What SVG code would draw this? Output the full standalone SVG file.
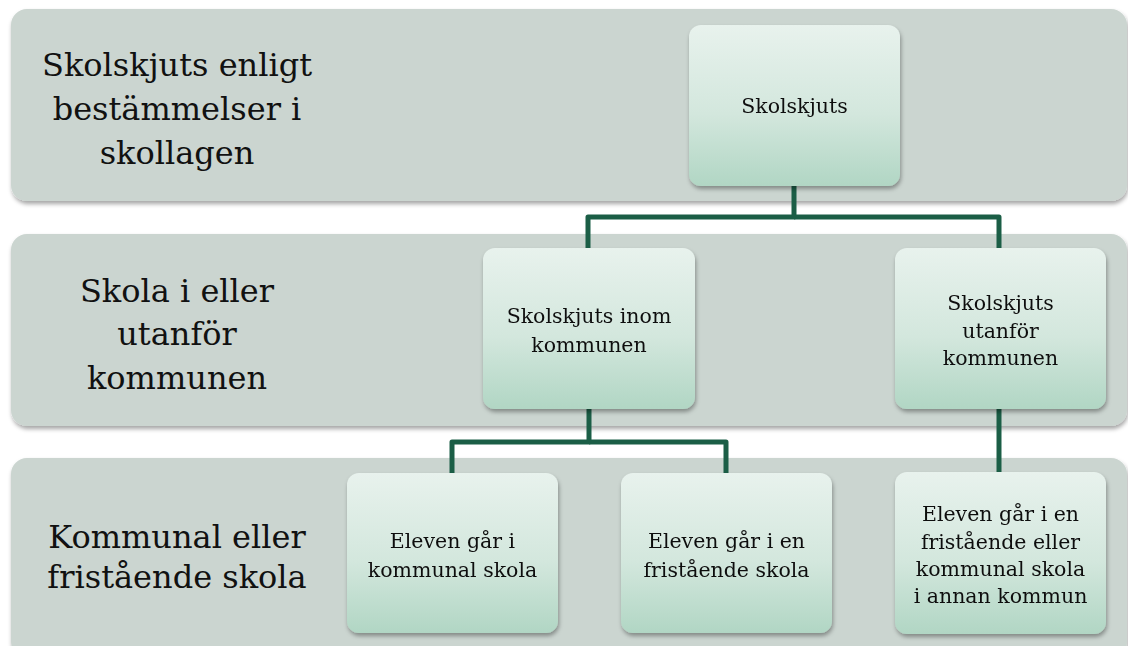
<svg xmlns="http://www.w3.org/2000/svg" width="1128" height="646" viewBox="0 0 1128 646">
<style>
.band{fill:#cbd5d0}
.node{fill:url(#ng)}
.lbl{font-family:"DejaVu Serif",serif;font-size:32px;fill:#111;text-anchor:middle}
.nt{font-family:"DejaVu Serif",serif;font-size:20.5px;fill:#111;text-anchor:middle}
.con{fill:none;stroke:#1b5e46;stroke-width:5;stroke-linejoin:round}
</style>
<defs>
<linearGradient id="ng" x1="0" y1="0" x2="0" y2="1">
<stop offset="0" stop-color="#e8f2ed"/>
<stop offset="0.55" stop-color="#d3e7dd"/>
<stop offset="1" stop-color="#b1d6c4"/>
</linearGradient>
<filter id="sh" x="-5%" y="-5%" width="112%" height="120%">
<feDropShadow dx="1" dy="3" stdDeviation="2" flood-color="#000" flood-opacity="0.35"/>
</filter>
</defs>
<rect width="1128" height="646" fill="#fff"/>
<g id="band1" filter="url(#sh)"><rect class="band" x="11" y="9" width="1116" height="192" rx="16"/></g>
<g id="band2" filter="url(#sh)"><rect class="band" x="11" y="234" width="1116" height="192" rx="16"/></g>
<g id="band3" filter="url(#sh)"><rect class="band" x="11" y="458" width="1116" height="200" rx="16"/></g>
<g id="label1">
<text class="lbl" x="177" y="76">Skolskjuts enligt</text>
<text class="lbl" x="177" y="120">bestämmelser i</text>
<text class="lbl" x="177" y="164">skollagen</text>
</g>
<g id="label2">
<text class="lbl" x="177" y="302">Skola i eller</text>
<text class="lbl" x="177" y="345">utanför</text>
<text class="lbl" x="177" y="389">kommunen</text>
</g>
<g id="label3">
<text class="lbl" x="177" y="548">Kommunal eller</text>
<text class="lbl" x="177" y="588">fristående skola</text>
</g>
<g id="connectors">
<path class="con" d="M794 186 V217 H588 V248"/>
<path class="con" d="M794 217 H999 V248"/>
<path class="con" d="M589 409 V442 H452 V473"/>
<path class="con" d="M589 442 H726 V473"/>
<path class="con" d="M999 409 V472"/>
</g>
<g id="n-skolskjuts" filter="url(#sh)">
<rect class="node" x="689" y="25" width="211" height="161" rx="12"/>
<text class="nt" x="794.5" y="113">Skolskjuts</text>
</g>
<g id="n-inom" filter="url(#sh)">
<rect class="node" x="483" y="248" width="212" height="161" rx="12"/>
<text class="nt" x="589" y="323">Skolskjuts inom</text>
<text class="nt" x="589" y="352">kommunen</text>
</g>
<g id="n-utanfor" filter="url(#sh)">
<rect class="node" x="895" y="248" width="211" height="161" rx="12"/>
<text class="nt" x="1000.5" y="310">Skolskjuts</text>
<text class="nt" x="1000.5" y="338">utanför</text>
<text class="nt" x="1000.5" y="365">kommunen</text>
</g>
<g id="n-kommunal" filter="url(#sh)">
<rect class="node" x="347" y="473" width="211" height="160" rx="12"/>
<text class="nt" x="452.5" y="548">Eleven går i</text>
<text class="nt" x="452.5" y="577">kommunal skola</text>
</g>
<g id="n-friskola" filter="url(#sh)">
<rect class="node" x="621" y="473" width="211" height="160" rx="12"/>
<text class="nt" x="726.5" y="548">Eleven går i en</text>
<text class="nt" x="726.5" y="577">fristående skola</text>
</g>
<g id="n-annan" filter="url(#sh)">
<rect class="node" x="895" y="472" width="211" height="162" rx="12"/>
<text class="nt" x="1000.5" y="521">Eleven går i en</text>
<text class="nt" x="1000.5" y="549">fristående eller</text>
<text class="nt" x="1000.5" y="576">kommunal skola</text>
<text class="nt" x="1000.5" y="603">i annan kommun</text>
</g>
</svg>
